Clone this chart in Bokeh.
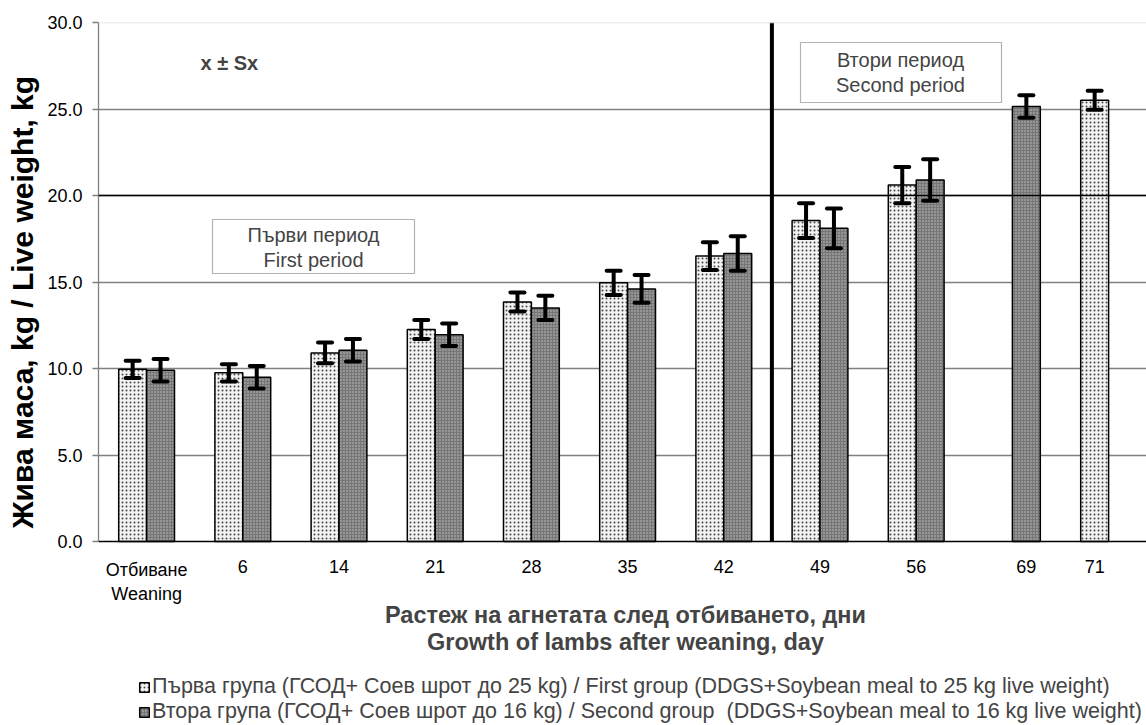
from bokeh.plotting import figure
from bokeh.models import (Range1d, FixedTicker, Span, Label, BoxAnnotation, Whisker, Title,
                          TeeHead, ColumnDataSource, Legend, LegendItem, PrintfTickFormatter)
from bokeh.core.properties import value
from bokeh.embed import file_html
from bokeh.resources import INLINE

# ---------------- data ----------------
categories = ["Отбиване\nWeaning", "6", "14", "21", "28", "35", "42", "49", "56", "69", "71"]
group1 = [9.95, 9.75, 10.9, 12.25, 13.85, 14.95, 16.5, 18.55, 20.6, None, 25.5]
group1_err = [0.5, 0.5, 0.6, 0.55, 0.55, 0.7, 0.8, 1.0, 1.05, None, 0.55]
group2 = [9.9, 9.5, 11.05, 11.95, 13.5, 14.6, 16.65, 18.1, 20.9, 25.15, None]
group2_err = [0.65, 0.65, 0.65, 0.65, 0.7, 0.8, 1.0, 1.15, 1.2, 0.65, None]
y_ticks = [0, 5, 10, 15, 20, 25, 30]
label1 = "Първа група (ГСОД+ Соев шрот до 25 kg) / First group (DDGS+Soybean meal to 25 kg live weight)"
label2 = "Втора група (ГСОД+ Соев шрот до 16 kg) / Second group  (DDGS+Soybean meal to 16 kg live weight)"
y_title = "Жива маса, kg / Live weight, kg"
x_title = ["Растеж на агнетата след отбиването, дни", "Growth of lambs after weaning, day"]
period1 = "Първи период\nFirst period"
period2 = "Втори период\nSecond period"
note = "x ± Sx"
separator_after = 6.5          # boundary between the two feeding periods (category units)

FONT = "Liberation Sans"
W, H = 1146, 725
LEFT, TOP = 98, 22            # frame origin in pixels
PX = 519 / 30                 # pixels per kg
CAT = 96.2                    # pixels per category
BW = 0.29                     # bar width (category units)
OFF = BW / 2


def yd(py):                   # pixel row -> data y
    return (TOP + 30 * PX - py) / PX


def xd(px):                   # pixel column -> data x
    return (px - LEFT) / CAT - 0.5


x1, t1, lo1, hi1 = [], [], [], []
x2, t2, lo2, hi2 = [], [], [], []
tick_pos = []
for i, cat in enumerate(categories):
    pos = []
    if group1[i] is not None:
        x1.append(i - OFF); t1.append(group1[i])
        lo1.append(group1[i] - group1_err[i]); hi1.append(group1[i] + group1_err[i])
        pos.append(i - OFF)
    if group2[i] is not None:
        x2.append(i + OFF); t2.append(group2[i])
        lo2.append(group2[i] - group2_err[i]); hi2.append(group2[i] + group2_err[i])
        pos.append(i + OFF)
    tick_pos.append(sum(pos) / len(pos))

s1 = ColumnDataSource(dict(x=x1, top=t1, lower=lo1, upper=hi1))
s2 = ColumnDataSource(dict(x=x2, top=t2, lower=lo2, upper=hi2))
st = ColumnDataSource(dict(x=tick_pos, text=categories))

p = figure(width=W, height=H, x_range=Range1d(-0.5, xd(W)), y_range=Range1d(yd(H), 30),
           output_backend="svg", toolbar_location=None,
           min_border_left=LEFT, min_border_right=0, min_border_top=TOP, min_border_bottom=0)
p.outline_line_color = None
p.background_fill_color = "white"
p.border_fill_color = "white"
p.xaxis.visible = False

# grid
p.xgrid.visible = False
p.ygrid.ticker = FixedTicker(ticks=[t for t in y_ticks if 0 < t < 30])
p.ygrid.grid_line_color = "#808080"
p.ygrid.grid_line_width = 1.3
p.add_layout(Span(location=20, dimension="width", line_color="black", line_width=1.3))
p.add_layout(Span(location=30, dimension="width", line_color="#dedede", line_width=1.3))

# bars
r1 = p.vbar(x="x", top="top", width=BW, source=s1, fill_color="#f2f2f2",
            hatch_pattern="dot", hatch_color="#4a4a4a", hatch_scale=4, hatch_weight=1.3,
            line_color="black", line_width=1.5)
r2 = p.vbar(x="x", top="top", width=BW, source=s2, fill_color="#767676",
            hatch_pattern="dot", hatch_color="#c4c4c4", hatch_scale=3, hatch_weight=1.2,
            line_color="black", line_width=1.5)

for s in (s1, s2):
    p.add_layout(Whisker(source=s, base="x", lower="lower", upper="upper", line_width=4,
                         line_color="black", level="overlay",
                         upper_head=TeeHead(size=14, line_width=4, line_color="black", line_cap="round"),
                         lower_head=TeeHead(size=14, line_width=4, line_color="black", line_cap="round")))

# x axis line and period separator (separator spans the value axis only)
p.add_layout(Span(location=0, dimension="width", line_color="black", line_width=1.6))
p.segment(x0=[separator_after], y0=[y_ticks[0]], x1=[separator_after], y1=[y_ticks[-1]],
          line_color="black", line_width=4)

# category labels
p.text(x="x", y=yd(559), text="text", source=st, text_align="center", text_baseline="top",
       text_font=value(FONT), text_font_size="18px", text_color="black", text_line_height=1.22)

# y axis
ya = p.yaxis[0]
ya.bounds = (0, 30)
ya.ticker = FixedTicker(ticks=y_ticks)
ya.formatter = PrintfTickFormatter(format="%.1f")
ya.axis_line_color = "#808080"
ya.axis_line_width = 1.3
ya.major_tick_line_color = "#808080"
ya.major_tick_line_width = 1.3
ya.major_tick_out = 6
ya.major_tick_in = 0
ya.minor_tick_line_color = None
ya.major_label_standoff = 10
ya.major_label_text_font = FONT
ya.major_label_text_font_size = "18px"
ya.major_label_text_color = "black"

p.add_layout(Title(text=y_title, align="left", offset=H - 528, standoff=8,
                   vertical_align="top",
                   text_font=FONT, text_font_style="bold", text_font_size="30px",
                   text_color="black"), "left")

# x title (two centred bold lines below the axis)
for txt, py in zip(x_title, (614, 641)):
    p.add_layout(Label(x=xd(625), y=yd(py), text=txt, text_align="center", text_baseline="middle",
                       text_font=FONT, text_font_style="bold", text_font_size="23.5px"))

# annotations
p.add_layout(Label(x=xd(200), y=yd(62), text=note, text_align="left", text_baseline="middle",
                   text_font=FONT, text_font_style="bold", text_font_size="20px"))
p.add_layout(BoxAnnotation(left=xd(212), right=xd(414), bottom=yd(273), top=yd(219),
                           fill_color="white", fill_alpha=1, line_color="black",
                           line_width=1.2, level="overlay"))
p.add_layout(Label(x=xd(313), y=yd(247), text=period1, text_align="center", text_baseline="middle",
                   text_font=FONT, text_font_size="20px", text_line_height=1.15, level="overlay"))
p.add_layout(BoxAnnotation(left=xd(800), right=xd(1001), bottom=yd(102), top=yd(42),
                           fill_color="white", fill_alpha=1, line_color="black",
                           line_width=1.2, level="overlay"))
p.add_layout(Label(x=xd(900), y=yd(72), text=period2, text_align="center", text_baseline="middle",
                   text_font=FONT, text_font_size="20px", text_line_height=1.15, level="overlay"))

# legend below the chart
legend = Legend(items=[LegendItem(label=label1, renderers=[r1]),
                       LegendItem(label=label2, renderers=[r2])],
                location=(40, 1), orientation="vertical", padding=0, margin=0, spacing=0,
                label_height=21, glyph_height=12, glyph_width=12, label_standoff=2,
                label_text_font=FONT, label_text_font_size="21.5px",
                border_line_alpha=0, background_fill_alpha=0)
p.add_layout(legend)

open("out.html", "w").write(file_html(p, INLINE))
